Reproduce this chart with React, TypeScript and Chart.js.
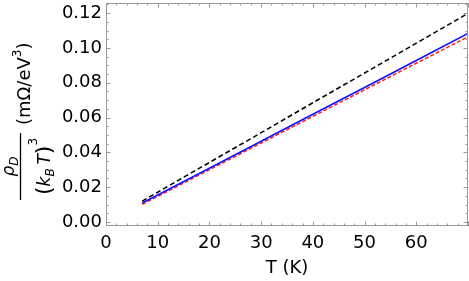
import React, { useEffect, useRef } from "react";
import { Chart, registerables } from "chart.js";

Chart.register(...registerables);

const temperatureK = [7, 10, 20, 30, 40, 50, 60, 70];
const blackDashed = [0.012, 0.0171, 0.0342, 0.0513, 0.0685, 0.0856, 0.1027, 0.1198];
const blueSolid = [0.0109, 0.0155, 0.0309, 0.0464, 0.0619, 0.0773, 0.0928, 0.1083];
const redDashed = [0.0101, 0.0147, 0.03, 0.0454, 0.0607, 0.0759, 0.0912, 0.1064];
const xTickValues = [0, 10, 20, 30, 40, 50, 60];
const yTickValues = [0, 0.02, 0.04, 0.06, 0.08, 0.1, 0.12];
const xMinorStep = 2;
const yMinorStep = 0.005;

const FONT = "'DejaVu Sans', sans-serif";
const FRAME = "#9a9a9a";

const framePlugin = {
  id: "frameTicks",
  afterDraw(chart: any) {
    const { ctx, chartArea: a, scales } = chart;
    const xs = scales.x;
    const ys = scales.y;
    ctx.save();
    ctx.strokeStyle = FRAME;
    ctx.lineWidth = 1;
    ctx.strokeRect(a.left + 0.5, a.top + 0.5, a.right - a.left - 1, a.bottom - a.top - 1);
    const tick = (x1: number, y1: number, x2: number, y2: number) => {
      ctx.beginPath();
      ctx.moveTo(x1, y1);
      ctx.lineTo(x2, y2);
      ctx.stroke();
    };
    for (let v = xs.min; v <= xs.max + 1e-9; v += xMinorStep) {
      const px = Math.round(xs.getPixelForValue(v)) + 0.5;
      const major = Math.abs(v / 10 - Math.round(v / 10)) < 1e-6;
      const len = major ? 4.5 : 2.5;
      tick(px, a.bottom, px, a.bottom - len);
      tick(px, a.top, px, a.top + len);
    }
    for (let i = 0; i * yMinorStep <= ys.max + 1e-9; i++) {
      const v = i * yMinorStep;
      const py = Math.round(ys.getPixelForValue(v)) + 0.5;
      const major = i % 4 === 0;
      const len = major ? 4.5 : 2.5;
      tick(a.left, py, a.left + len, py);
      tick(a.right, py, a.right - len, py);
    }
    ctx.restore();

    // y axis label (rotated)
    ctx.save();
    ctx.fillStyle = "#000";
    ctx.strokeStyle = "#000";
    ctx.translate(0, 200);
    ctx.rotate(-Math.PI / 2);
    ctx.textBaseline = "alphabetic";
    ctx.textAlign = "left";
    type Piece = { t: string; f: string; dv: number };
    const width = (ps: Piece[]) =>
      ps.reduce((s, p) => {
        ctx.font = p.f;
        return s + ctx.measureText(p.t).width;
      }, 0);
    const draw = (ps: Piece[], u0: number, v0: number) => {
      let u = u0;
      for (const p of ps) {
        ctx.font = p.f;
        ctx.fillText(p.t, u, v0 + p.dv);
        u += ctx.measureText(p.t).width;
      }
    };
    const it = `italic 17px ${FONT}`;
    const itS = `italic 12px ${FONT}`;
    const rg = `18px ${FONT}`;
    const rgS = `12px ${FONT}`;
    const big = `22px ${FONT}`;
    const num: Piece[] = [
      { t: "ρ", f: it, dv: 0 },
      { t: "D", f: itS, dv: 4 },
    ];
    const den: Piece[] = [
      { t: "(", f: big, dv: 1 },
      { t: "k", f: it, dv: 0 },
      { t: "B", f: itS, dv: 4 },
      { t: " ", f: rgS, dv: 0 },
      { t: "T", f: it, dv: 0 },
      { t: ")", f: big, dv: 1 },
      { t: "3", f: rgS, dv: -13 },
    ];
    const units: Piece[] = [
      { t: "(mΩ/eV", f: rg, dv: 0 },
      { t: "3", f: rgS, dv: -9 },
      { t: ")", f: rg, dv: 0 },
    ];
    const barLen = 67;
    draw(num, (barLen - width(num)) / 2, 14);
    ctx.lineWidth = 1.3;
    ctx.beginPath();
    ctx.moveTo(0, 20.5);
    ctx.lineTo(barLen, 20.5);
    ctx.stroke();
    draw(den, (barLen - width(den)) / 2, 50);
    draw(units, 75, 29.5);
    ctx.restore();
  },
};

export default function App() {
  const ref = useRef<HTMLCanvasElement | null>(null);
  useEffect(() => {
    document.body.style.margin = "0";
    if (!ref.current) return;
    const mk = (vals: number[]) => temperatureK.map((x, i) => ({ x, y: vals[i] }));
    const chart = new Chart(ref.current, {
      type: "line",
      data: {
        datasets: [
          {
            data: mk(blackDashed),
            borderColor: "#000000",
            borderWidth: 1.5,
            borderDash: [5, 3],
            pointRadius: 0,
            fill: false,
            order: 0,
          },
          {
            data: mk(blueSolid),
            borderColor: "#1010ff",
            borderWidth: 1.6,
            pointRadius: 0,
            fill: false,
            order: 1,
          },
          {
            data: mk(redDashed),
            borderColor: "#ff2020",
            borderWidth: 1.5,
            borderDash: [4, 2],
            pointRadius: 0,
            fill: false,
            order: 2,
          },
        ],
      },
      options: {
        responsive: false,
        animation: false,
        layout: { padding: { top: 3, right: 1, left: 0, bottom: 0 } },
        plugins: { legend: { display: false }, tooltip: { enabled: false } },
        scales: {
          x: {
            type: "linear",
            min: 0,
            max: 70,
            grid: { display: false, drawTicks: false },
            border: { display: false },
            afterFit: (s: any) => {
              s.height = 55;
              s.paddingLeft = 0;
              s.paddingRight = 0;
            },
            afterBuildTicks: (s: any) => {
              s.ticks = xTickValues.map((v) => ({ value: v }));
            },
            ticks: {
              color: "#000",
              padding: 7,
              maxRotation: 0,
              font: { family: FONT, size: 18 },
              callback: (v: any) => String(v),
            },
            title: {
              display: true,
              text: "T (K)",
              color: "#000",
              font: { family: FONT, size: 18 },
              padding: { top: 0, bottom: 2 },
            },
          },
          y: {
            type: "linear",
            min: -0.0023,
            max: 0.1258,
            grid: { display: false, drawTicks: false },
            border: { display: false },
            afterFit: (s: any) => {
              s.width = 106;
              s.paddingTop = 0;
              s.paddingBottom = 0;
            },
            afterBuildTicks: (s: any) => {
              s.ticks = yTickValues.map((v) => ({ value: v }));
            },
            ticks: {
              color: "#000",
              padding: 4,
              font: { family: FONT, size: 18 },
              callback: (v: any) => Number(v).toFixed(2),
            },
          },
        },
      },
      plugins: [framePlugin],
    });
    return () => chart.destroy();
  }, []);
  return (
    <div style={{ width: 469, height: 281 }}>
      <canvas ref={ref} width={469} height={281} />
    </div>
  );
}
